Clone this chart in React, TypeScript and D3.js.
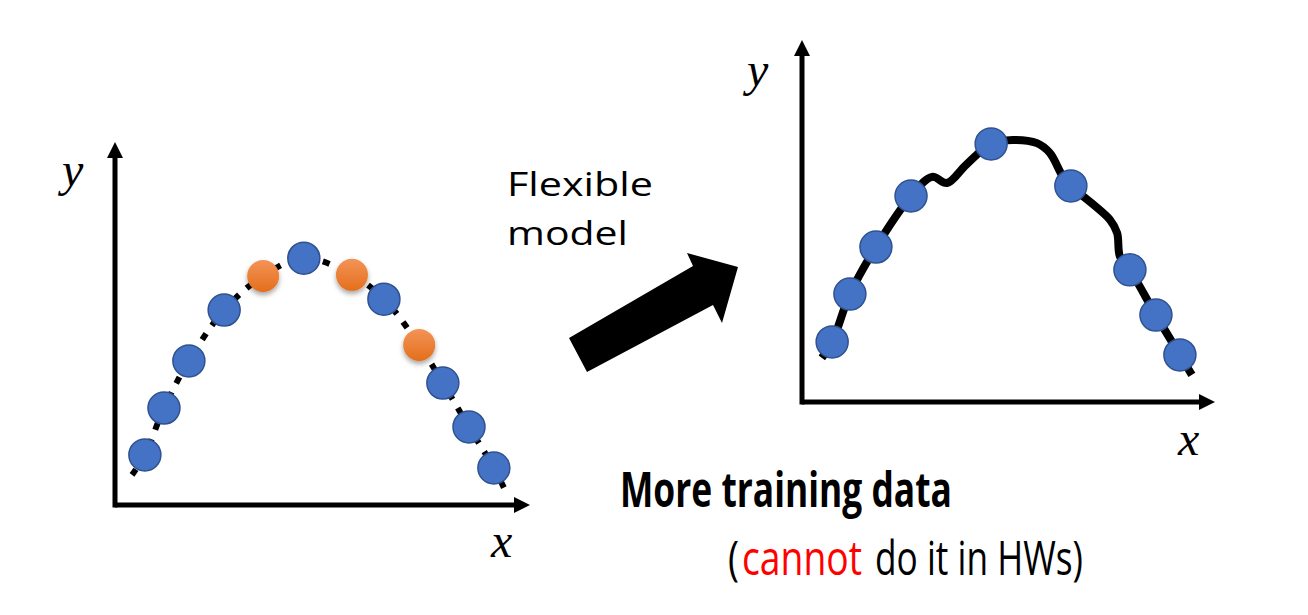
import React, { useLayoutEffect, useRef, useState } from "react";
import * as d3 from "d3";

// ---- data (abstract units 0..100 on each panel's axes) ----
const leftX = [7.2, 11.8, 17.8, 26.3, 35.7, 45.5, 57.1, 64.8, 73.3, 79.0, 85.3, 91.3];
const leftY = [13.8, 26.7, 39.7, 53.7, 63.1, 68.0, 63.4, 56.7, 44.1, 33.6, 21.5, 10.2];
const leftKind = ["train", "train", "train", "train", "extra", "train", "extra", "train", "extra", "train", "train", "train"];
const leftCurveX = [4.1, 7.2, 11.8, 17.8, 26.3, 35.7, 45.5, 57.1, 64.8, 73.3, 79.0, 85.3, 91.3, 94.0];
const leftCurveY = [8.3, 13.8, 26.7, 39.7, 53.7, 63.1, 68.0, 63.4, 56.7, 44.1, 33.6, 21.5, 10.2, 4.1];

const rightX = [7.3, 11.6, 17.9, 26.4, 45.8, 65.1, 79.4, 85.7, 91.5];
const rightY = [16.6, 29.8, 42.8, 56.9, 71.3, 59.7, 36.5, 24.0, 13.0];
const fitX = [4.8, 7.3, 11.6, 17.9, 26.4, 31.5, 35.1, 39.7, 45.8, 51.1, 56.9, 60.0, 63.2, 65.1, 74.6, 76.3, 77.0, 79.4, 85.7, 91.5, 94.4];
const fitY = [12.2, 16.6, 29.8, 42.8, 56.9, 62.2, 60.5, 65.5, 71.3, 72.4, 71.5, 68.8, 62.2, 59.7, 50.3, 46.7, 40.1, 36.5, 24.0, 13.0, 7.5];

const axisLabels = ["x", "y"];
const captionTop = ["Flexible", "model"];
const captionMain = "More training data";
const captionSub = ["(", "cannot", "do it in HWs)"];

const BLUE = "#4472C4";
const BLUE_EDGE = "#2F528F";
const RED = "#FF0000";

function FitText({ x, y, width, children, ...rest }: any) {
  const ref = useRef<SVGTextElement>(null);
  const [sx, setSx] = useState(1);
  useLayoutEffect(() => {
    if (ref.current) {
      const w = ref.current.getComputedTextLength();
      if (w > 0) setSx(width / w);
    }
  }, [width, children]);
  return (
    <text ref={ref} x={0} y={0} transform={`translate(${x},${y}) scale(${sx},1)`} {...rest}>
      {children}
    </text>
  );
}

export default function App() {
  // left panel scales
  const lx = d3.scaleLinear().domain([0, 100]).range([115, 530]);
  const ly = d3.scaleLinear().domain([0, 100]).range([505, 142]);
  // right panel scales
  const rx = d3.scaleLinear().domain([0, 100]).range([802, 1215]);
  const ry = d3.scaleLinear().domain([0, 100]).range([402, 40]);

  const leftLine = d3
    .line<number>()
    .x((_, i) => lx(leftCurveX[i]))
    .y((_, i) => ly(leftCurveY[i]))
    .curve(d3.curveCatmullRom.alpha(0.5));
  const fitLine = d3
    .line<number>()
    .x((_, i) => rx(fitX[i]))
    .y((_, i) => ry(fitY[i]))
    .curve(d3.curveCatmullRom.alpha(0.5));

  const axes = (xs: any, ys: any) => {
    const x0 = xs.range()[0];
    const x1 = xs.range()[1];
    const y0 = ys.range()[0];
    const y1 = ys.range()[1];
    const hw = 8;
    const hl = 16;
    return (
      <g>
        <line x1={x0} y1={y0} x2={x1 - hl + 1} y2={y0} stroke="#000" strokeWidth={5} />
        <line x1={x0} y1={y0 + 2.5} x2={x0} y2={y1 + hl - 1} stroke="#000" strokeWidth={5} />
        <polygon points={`${x1},${y0} ${x1 - hl},${y0 - hw} ${x1 - hl},${y0 + hw}`} fill="#000" />
        <polygon points={`${x0},${y1} ${x0 - hw},${y1 + hl} ${x0 + hw},${y1 + hl}`} fill="#000" />
      </g>
    );
  };

  const mathFont = "'Liberation Serif', 'DejaVu Serif', serif";
  const sans = "'Open Sans', 'Noto Sans', sans-serif";

  return (
    <svg
      width={1308}
      height={615}
      style={{ position: "fixed", left: 0, top: 0, background: "#fff" }}
    >
      <defs>
        <linearGradient id="orangeGrad" x1="0" y1="0" x2="0" y2="1">
          <stop offset="0" stopColor="#F39457" />
          <stop offset="1" stopColor="#E46E1C" />
        </linearGradient>
        <filter id="shadow" x="-50%" y="-50%" width="200%" height="200%">
          <feDropShadow dx="0" dy="3" stdDeviation="2.5" floodColor="#000" floodOpacity="0.35" />
        </filter>
      </defs>
      <rect x={0} y={0} width={1308} height={615} fill="#fff" />

      {/* left panel */}
      {axes(lx, ly)}
      <path
        d={leftLine(leftCurveX) || ""}
        fill="none"
        stroke="#000"
        strokeWidth={6}
        strokeDasharray="7 10"
      />
      {leftX.map((v, i) =>
        leftKind[i] === "train" ? (
          <circle key={i} cx={lx(v)} cy={ly(leftY[i])} r={16} fill={BLUE} stroke={BLUE_EDGE} strokeWidth={1.5} />
        ) : (
          <circle key={i} cx={lx(v)} cy={ly(leftY[i])} r={16} fill="url(#orangeGrad)" filter="url(#shadow)" />
        )
      )}
      <text x={62} y={186} fontFamily={mathFont} fontStyle="italic" fontSize={48}>
        {axisLabels[1]}
      </text>
      <text x={491} y={557} fontFamily={mathFont} fontStyle="italic" fontSize={48}>
        {axisLabels[0]}
      </text>

      {/* right panel */}
      {axes(rx, ry)}
      <path d={fitLine(fitX) || ""} fill="none" stroke="#000" strokeWidth={8} strokeLinejoin="round" />
      {rightX.map((v, i) => (
        <circle key={i} cx={rx(v)} cy={ry(rightY[i])} r={16} fill={BLUE} stroke={BLUE_EDGE} strokeWidth={1.5} />
      ))}
      <text x={747} y={86} fontFamily={mathFont} fontStyle="italic" fontSize={48}>
        {axisLabels[1]}
      </text>
      <text x={1178} y={455} fontFamily={mathFont} fontStyle="italic" fontSize={48}>
        {axisLabels[0]}
      </text>

      {/* middle arrow */}
      <polygon
        points="569,338 693,266 687,253 738,267 722,323 713,305 587,372"
        fill="#000"
      />
      <FitText x={507} y={196} width={146} fontFamily={sans} fontSize={32}>
        {captionTop[0]}
      </FitText>
      <FitText x={507} y={245} width={121} fontFamily={sans} fontSize={32}>
        {captionTop[1]}
      </FitText>

      {/* captions */}
      <FitText x={620} y={507} width={332} fontFamily={sans} fontWeight="bold" fontSize={48}>
        {captionMain}
      </FitText>
      <FitText x={728} y={575} width={11} fontFamily={sans} fontSize={48} fill="#000">
        {captionSub[0]}
      </FitText>
      <FitText x={742} y={575} width={120} fontFamily={sans} fontSize={48} fill={RED}>
        {captionSub[1]}
      </FitText>
      <FitText x={875} y={575} width={208} fontFamily={sans} fontSize={48} fill="#000">
        {captionSub[2]}
      </FitText>
    </svg>
  );
}
